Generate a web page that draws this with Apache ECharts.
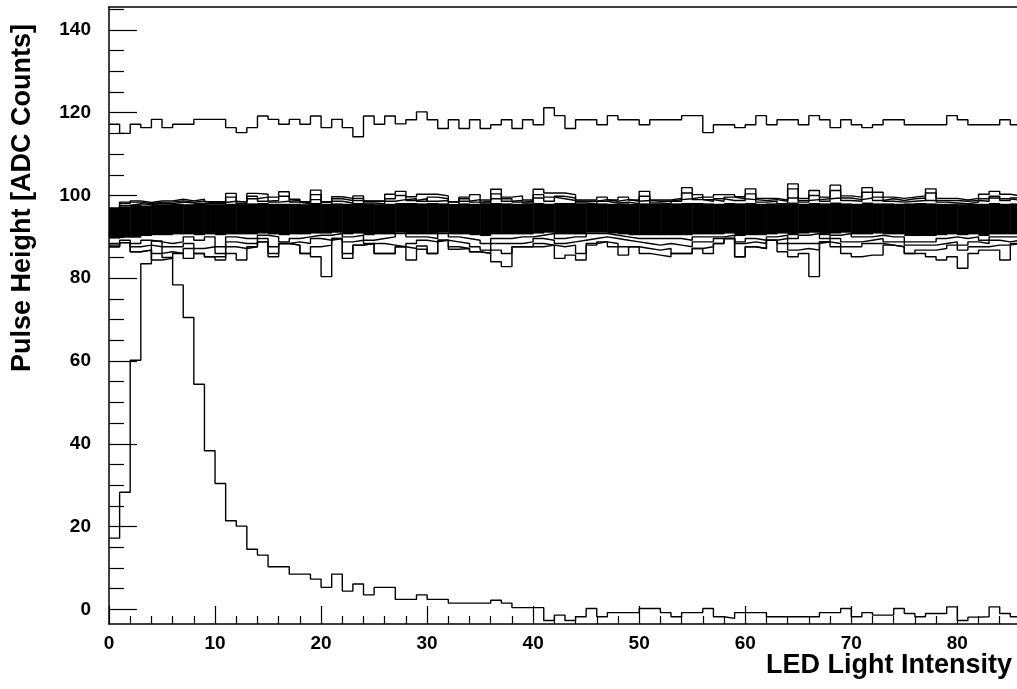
<!DOCTYPE html>
<html>
<head>
<meta charset="utf-8">
<script src="https://cdn.jsdelivr.net/npm/echarts@6/dist/echarts.min.js"></script>
<style>html,body{margin:0;padding:0;background:#fff}#c{width:1017px;height:689px}</style>
</head>
<body>
<div id="c"></div>
<script>
// x ticks / y ticks
const xMajorTicks = [0, 10, 20, 30, 40, 50, 60, 70, 80];
const xMinorTicks = [2, 4, 6, 8, 12, 14, 16, 18, 22, 24, 26, 28, 32, 34, 36, 38, 42, 44, 46, 48, 52, 54, 56, 58, 62, 64, 66, 68, 72, 74, 76, 78, 82, 84];
const yMajorTicks = [0, 20, 40, 60, 80, 100, 120, 140];
const yMinorTicks = [5, 10, 15, 25, 30, 35, 45, 50, 55, 65, 70, 75, 85, 90, 95, 105, 110, 115, 125, 130, 135, 145];

// channel with high gain (~117)
const topLine = [117.2,115.0,117.2,116.4,118.4,116.4,117.2,117.2,118.4,118.4,118.4,116.4,115.2,116.4,119.2,118.4,117.2,118.4,117.2,119.2,
116.4,118.4,116.4,114.2,119.2,117.2,119.2,117.3,118.3,120.2,118.3,116.2,118.3,116.2,118.3,116.2,117.1,118.3,116.2,118.3,
117.1,121.2,119.3,116.2,118.3,118.3,117.1,119.3,118.3,118.3,117.1,118.3,118.3,118.3,119.3,119.3,115.2,117.1,117.1,116.4,
117.1,119.3,117.1,118.3,118.3,117.1,119.3,118.3,116.4,118.3,117.1,116.4,117.1,118.3,118.3,117.1,117.1,117.1,117.1,119.3,
118.3,117.1,117.1,117.1,118.3,117.1];

// channel that rises and decays
const decayLine = [17.2,28.3,60.2,83.5,89.0,85.0,78.4,70.5,54.4,38.3,30.4,21.4,20.1,14.5,13.1,10.3,10.3,8.5,8.5,7.3,
5.3,8.5,4.4,6.1,3.5,5.3,5.3,2.4,2.4,3.5,2.4,2.4,1.5,1.5,1.5,1.5,2.2,1.5,0.4,0.4,
0.4,-2.7,-1.4,-2.7,-1.8,0.2,-1.8,-0.8,-0.8,-0.8,0.2,0.2,-0.8,-1.8,-0.8,-0.8,0.2,-1.8,-2.2,-0.8,
-0.8,-0.8,-1.8,-1.8,-1.8,-1.8,-1.8,-0.8,-0.8,0.2,-1.8,-0.8,-1.4,-1.4,0.2,-1.0,-1.8,-1.0,-1.0,0.6,
-2.7,-1.9,-1.8,0.6,-1.0,-1.8];

// dense core of the many overlapping channels
const bandLow = [89.6,89.8,89.8,90.2,90.4,90.4,90.6,90.6,90.4,90.6,90.4,90.6,90.6,90.6,90.8,90.6,90.4,90.6,90.6,90.8,
90.8,91.0,90.6,90.8,90.4,90.6,90.6,91.0,90.6,90.6,90.6,91.0,90.6,90.6,90.4,90.2,90.6,90.6,90.6,90.6,
90.8,91.0,90.6,90.6,90.6,91.0,91.0,90.8,90.6,90.4,90.4,90.4,90.4,90.4,90.4,90.6,90.6,90.6,90.8,90.2,
90.4,90.4,90.6,90.8,90.4,90.8,91.0,90.4,90.8,91.0,90.6,90.6,90.8,90.6,90.6,90.2,90.2,90.2,90.4,90.6,
90.4,90.6,90.2,90.6,90.6,90.6];
const bandHigh = [96.6,97.4,97.8,97.6,97.9,97.9,98.0,97.9,98.0,97.9,97.9,98.0,97.9,98.1,98.2,98.0,98.0,98.0,97.9,98.2,
97.9,98.1,98.0,98.2,98.0,97.9,98.0,98.2,98.2,98.1,98.2,98.1,97.9,98.1,98.0,98.0,98.2,98.1,98.0,98.0,
98.2,98.0,98.2,98.2,98.0,98.0,98.1,98.0,98.1,98.0,98.1,98.0,98.0,98.1,98.2,98.2,98.1,98.0,98.2,98.1,
98.2,98.0,98.1,97.9,98.3,98.0,98.2,98.1,98.3,98.1,98.0,98.3,98.1,98.1,98.0,98.1,98.2,98.1,98.0,98.0,
97.9,98.0,98.0,98.2,98.0,98.1];

// outer channels of the band (upper side)
const upper1 = [97.0,98.1,98.7,98.3,98.7,98.7,99.1,98.7,99.1,98.5,98.5,100.5,98.5,100.5,100.3,99.6,100.9,99.1,98.5,101.3,
98.5,99.7,99.3,99.9,98.7,98.7,100.3,101.0,99.7,100.3,100.3,99.9,98.5,99.6,100.2,98.9,101.5,99.6,99.9,98.9,
101.5,100.6,100.6,100.2,98.9,98.9,99.6,98.9,99.6,98.9,101.0,98.9,98.9,99.3,101.9,100.2,99.6,100.2,100.2,99.7,
101.6,99.3,99.3,98.9,102.8,99.3,101.2,99.6,102.5,99.9,99.6,101.9,100.8,99.6,99.3,99.6,99.9,101.6,99.3,99.3,
98.9,99.3,100.3,101.0,100.3,99.9];
const upper2 = [96.6,97.6,98.0,97.8,98.2,98.0,98.4,98.2,98.0,98.2,98.0,99.6,98.0,99.8,98.6,98.8,99.8,98.4,98.0,100.2,
97.8,98.6,98.2,98.8,98.2,98.0,99.2,100.0,98.8,99.2,98.6,98.8,97.8,98.6,99.0,98.2,100.4,98.6,98.8,98.2,
100.2,99.6,99.2,98.8,98.2,98.0,98.6,98.2,98.4,98.0,99.8,98.2,98.0,98.6,100.6,99.0,98.6,99.2,98.8,98.8,
100.4,98.4,98.6,98.0,101.6,98.4,100.0,98.6,101.2,98.8,98.6,100.8,99.6,98.6,98.4,98.6,98.8,100.6,98.4,98.2,
98.0,98.4,99.2,99.8,99.2,98.8];
const upper3 = [96.8,98.4,98.4,98.0,98.4,98.4,98.7,98.4,98.6,98.2,98.3,98.6,98.4,99.2,99.6,98.4,98.6,98.8,98.3,99.0,
98.3,99.2,98.8,99.3,98.6,98.6,98.6,99.0,99.2,98.6,99.6,99.2,98.4,99.2,98.4,98.6,99.2,99.2,98.4,98.6,
99.4,98.6,99.8,99.4,98.6,98.6,99.0,98.6,99.0,98.6,98.8,98.6,98.6,99.0,99.2,99.6,99.0,98.6,99.6,99.2,
99.0,98.8,99.0,98.6,99.4,98.8,99.0,99.2,99.4,99.4,99.0,99.4,98.8,99.2,98.8,99.2,99.4,98.8,98.8,98.8,
98.6,98.8,98.6,99.4,98.8,99.4];

// outer channels of the band (lower side)
const lower1 = [88.4,89.2,88.4,89.2,88.8,88.4,88.8,90.0,89.2,90.0,87.6,90.0,89.6,89.6,90.4,90.0,88.8,89.6,90.0,90.4,
90.4,90.8,90.0,90.4,89.2,89.6,90.0,90.8,90.0,90.0,89.6,90.8,90.0,89.6,89.2,88.4,89.6,89.6,90.0,90.0,
90.4,90.8,89.6,90.0,90.0,90.8,90.8,90.4,90.0,89.6,89.6,89.6,89.6,89.6,89.2,90.0,90.0,90.0,90.4,88.8,
89.6,89.2,90.0,90.4,89.6,90.4,90.8,89.6,90.4,90.8,90.0,90.0,90.4,90.0,90.0,88.8,88.8,88.8,89.6,90.0,
89.6,90.0,89.2,90.0,90.0,90.0];
const lower2 = [88.0,88.6,87.6,88.0,87.6,87.6,87.6,88.4,87.2,87.6,86.0,88.8,88.4,88.4,89.6,87.6,88.4,88.8,88.4,89.6,
89.2,89.6,88.8,89.2,88.4,88.4,88.0,87.6,88.4,89.2,88.8,89.2,88.8,88.4,87.6,86.8,88.4,88.4,88.4,88.8,
89.6,89.2,88.4,88.8,89.2,89.6,90.0,89.6,89.2,88.8,88.4,88.0,88.4,88.0,87.6,88.8,88.8,89.6,89.6,88.4,
88.8,88.4,89.2,89.6,88.4,88.4,88.4,88.8,89.6,88.8,88.8,89.2,89.6,88.8,88.8,88.0,88.0,88.0,88.4,88.8,
88.0,88.8,88.4,89.2,88.8,89.2];
const lower3 = [87.6,88.6,86.4,86.8,86.0,86.4,86.0,87.2,86.0,85.2,85.2,87.6,87.2,87.6,88.8,86.0,88.4,88.0,86.0,87.6,
88.0,89.6,86.0,88.0,88.4,86.0,86.0,87.6,87.2,87.8,86.0,89.2,87.6,87.2,86.4,86.0,86.8,86.0,87.6,87.6,
88.4,88.0,87.6,88.0,86.0,88.4,88.8,88.4,87.6,87.6,87.2,86.8,87.2,86.0,86.0,87.2,87.6,88.4,89.6,85.2,
87.6,87.2,89.2,88.4,86.8,87.2,86.8,88.8,88.4,87.6,87.6,88.4,88.4,88.0,87.6,86.0,86.8,86.8,87.2,88.0,
86.8,87.6,87.6,88.0,88.0,88.4];
const lower4 = [87.6,88.6,86.4,86.8,84.4,84.8,86.0,84.8,86.0,85.2,84.4,86.0,84.4,87.6,88.8,85.2,88.4,88.0,86.0,85.2,
80.4,89.6,84.8,88.0,88.4,86.0,86.0,87.6,84.4,87.0,86.0,89.2,87.0,87.2,86.4,86.0,84.0,82.8,87.6,87.6,
87.6,88.0,84.8,85.6,84.4,88.0,88.8,87.6,85.6,87.6,86.0,85.6,85.2,86.0,86.0,87.2,86.0,88.4,89.6,85.2,
87.6,87.2,89.2,86.4,85.2,86.0,80.4,88.8,87.6,86.0,85.2,85.6,85.6,88.0,87.6,86.0,86.0,85.2,84.4,85.2,
82.4,86.0,86.8,86.8,84.4,88.4];

function hist(vals) {
  const d = vals.map((v, i) => [i, v]);
  d.push([vals.length, vals[vals.length - 1]]);
  return d;
}
function lineSeries(vals) {
  return {
    type: 'line', step: 'end', data: hist(vals), symbol: 'none', silent: true, clip: true,
    lineStyle: { color: '#000', width: 1.4 }, z: 3
  };
}

const bandData = bandLow.map((v, i) => [i, v, bandHigh[i]]);

const labelFont = { color: '#000', fontFamily: '"Liberation Sans", Arial, sans-serif', fontWeight: 'bold', fontSize: 19 };
const xMin = 0, xMax = 85.63;
const yMin = -3.55, yMax = 145.55;
const axisColor = { color: '#000', width: 1.5 };
const tickStyle = { color: '#000', width: 1.2 };

const chart = echarts.init(document.getElementById('c'), null, { renderer: 'canvas' });
chart.setOption({
  animation: false,
  backgroundColor: '#fff',
  grid: { left: 109, right: 0, top: 7, bottom: 65, show: false },
  xAxis: [{
    type: 'value', min: xMin, max: xMax, position: 'bottom',
    axisLine: { show: true, onZero: false, lineStyle: axisColor },
    axisTick: { show: true, inside: true, length: 18, customValues: xMajorTicks, lineStyle: tickStyle },
    axisLabel: Object.assign({ margin: 10, customValues: xMajorTicks }, labelFont),
    splitLine: { show: false }
  }, {
    type: 'value', min: xMin, max: xMax, position: 'bottom',
    axisLine: { show: false, onZero: false },
    axisTick: { show: true, inside: true, length: 8, customValues: xMinorTicks, lineStyle: tickStyle },
    axisLabel: { show: false },
    splitLine: { show: false }
  }, {
    type: 'value', min: xMin, max: xMax, position: 'top',
    axisLine: { show: true, onZero: false, lineStyle: axisColor },
    axisTick: { show: false }, axisLabel: { show: false }, splitLine: { show: false }
  }],
  yAxis: [{
    type: 'value', min: yMin, max: yMax, position: 'left',
    axisLine: { show: true, onZero: false, lineStyle: axisColor },
    axisTick: { show: true, inside: true, length: 28, customValues: yMajorTicks, lineStyle: tickStyle },
    axisLabel: Object.assign({ margin: 18, customValues: yMajorTicks }, labelFont),
    splitLine: { show: false }
  }, {
    type: 'value', min: yMin, max: yMax, position: 'left',
    axisLine: { show: false, onZero: false },
    axisTick: { show: true, inside: true, length: 15, customValues: yMinorTicks, lineStyle: tickStyle },
    axisLabel: { show: false },
    splitLine: { show: false }
  }],
  series: [
    {
      type: 'custom', silent: true, z: 2, clip: true,
      data: bandData,
      encode: { x: 0, y: [1, 2] },
      renderItem: function (params, api) {
        const x = api.value(0);
        const p1 = api.coord([x, api.value(2)]);
        const p2 = api.coord([x + 1, api.value(1)]);
        return {
          type: 'rect',
          shape: { x: p1[0], y: p1[1], width: p2[0] - p1[0] + 0.5, height: p2[1] - p1[1] },
          style: { fill: '#000' }
        };
      }
    },
    lineSeries(upper1), lineSeries(upper2), lineSeries(upper3),
    lineSeries(lower1), lineSeries(lower2), lineSeries(lower3), lineSeries(lower4),
    lineSeries(topLine), lineSeries(decayLine)
  ],
  graphic: [
    { type: 'text', x: 1012, y: 666, style: { text: 'LED Light Intensity', fill: '#000', font: 'bold 27px "Liberation Sans", Arial, sans-serif', textAlign: 'right', textVerticalAlign: 'middle' } },
    { type: 'text', x: 23, y: 198, rotation: Math.PI / 2, style: { text: 'Pulse Height [ADC Counts]', fill: '#000', font: 'bold 27px "Liberation Sans", Arial, sans-serif', textAlign: 'center', textVerticalAlign: 'middle' } }
  ]
});
</script>
</body>
</html>
